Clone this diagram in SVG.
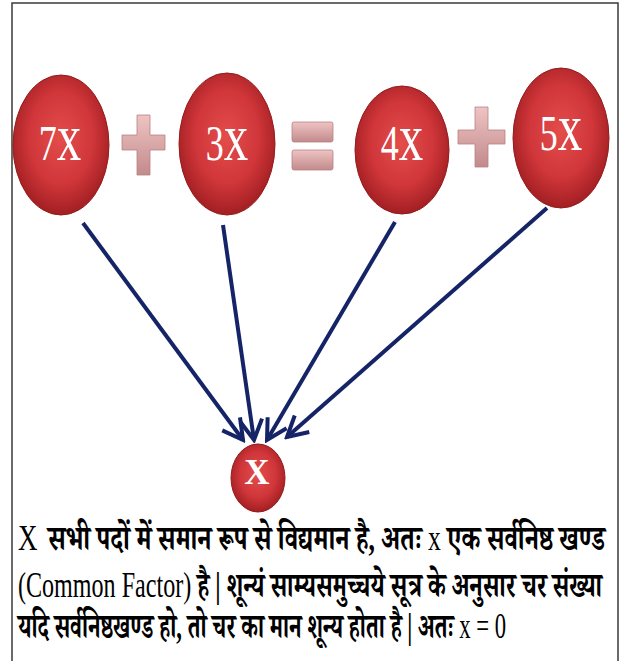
<svg xmlns="http://www.w3.org/2000/svg" width="635" height="661" viewBox="0 0 635 661">
<defs>
<radialGradient id="red" cx="50%" cy="45%" r="55%">
<stop offset="0" stop-color="#e34d4b"/>
<stop offset="0.6" stop-color="#d0363a"/>
<stop offset="1" stop-color="#a21f22"/>
</radialGradient>
<linearGradient id="pink" x1="0" y1="0" x2="0" y2="1">
<stop offset="0" stop-color="#efc4c4"/>
<stop offset="1" stop-color="#c28a8c"/>
</linearGradient>
<marker id="arr" markerUnits="userSpaceOnUse" markerWidth="26" markerHeight="26" viewBox="0 0 26 26" refX="23" refY="13" orient="auto">
<path d="M3,2 L23,13 L3,24" fill="none" stroke="#152466" stroke-width="4" stroke-linejoin="miter"/>
</marker>
<style>
.node{fill:url(#red);stroke:#931c1e;stroke-width:1}
.lbl{font-family:"Liberation Serif","Times New Roman",serif;fill:#ffffff;text-anchor:middle}
.op{fill:url(#pink);stroke:#b88080;stroke-width:0.8}
.conn{stroke:#152466;stroke-width:4;fill:none;marker-end:url(#arr)}
.txt{font-family:"Liberation Serif","Noto Serif Devanagari","Noto Sans Devanagari","Noto Sans",serif;font-size:27px;font-weight:bold;fill:#000000}
.lat{font-weight:normal}
</style>
</defs>
<rect x="12" y="3" width="606" height="680" fill="#ffffff" stroke="#3a3a3a" stroke-width="1.5"/>

<g id="connectors">
<line class="conn" x1="83" y1="223" x2="243" y2="440"/>
<line class="conn" x1="223" y1="225" x2="254" y2="440"/>
<line class="conn" x1="395" y1="222" x2="267" y2="440"/>
<line class="conn" x1="547" y1="208" x2="287" y2="437"/>
</g>

<g id="node-7x">
<ellipse class="node" cx="61" cy="145" rx="48" ry="70"/>
<text class="lbl" transform="translate(60,160) scale(0.72,1)"><tspan font-size="50">7</tspan><tspan font-size="68">x</tspan></text>
</g>
<g id="plus-1">
<path class="op" d="M137,115 H150 V135 H165 V150 H150 V175 H137 V150 H122 V135 H137 Z"/>
</g>
<g id="node-3x">
<ellipse class="node" cx="227" cy="144" rx="48" ry="71"/>
<text class="lbl" transform="translate(227,160) scale(0.72,1)"><tspan font-size="50">3</tspan><tspan font-size="68">x</tspan></text>
</g>
<g id="equals">
<rect class="op" x="292" y="122" width="41" height="20" rx="2"/>
<rect class="op" x="292" y="150" width="41" height="20" rx="2"/>
</g>
<g id="node-4x">
<ellipse class="node" cx="402" cy="150" rx="47" ry="64"/>
<text class="lbl" transform="translate(402,160) scale(0.72,1)"><tspan font-size="50">4</tspan><tspan font-size="68">x</tspan></text>
</g>
<g id="plus-2">
<path class="op" d="M475,107 H488 V130 H505 V144 H488 V167 H475 V144 H458 V130 H475 Z"/>
</g>
<g id="node-5x">
<ellipse class="node" cx="561" cy="138" rx="48" ry="70"/>
<text class="lbl" transform="translate(561,150) scale(0.72,1)"><tspan font-size="50">5</tspan><tspan font-size="68">x</tspan></text>
</g>
<g id="node-X">
<ellipse class="node" cx="258" cy="478" rx="27" ry="34"/>
<text class="lbl" x="257" y="484" font-size="35" font-weight="bold">X</text>
</g>

<g id="caption">
<text class="txt lat" transform="translate(18,550) scale(1,1.3)" x="0" y="0">X</text>
<text class="txt" transform="translate(48,550) scale(1,1.3)" x="0" y="0" textLength="557" lengthAdjust="spacingAndGlyphs">सभी पदों में समान रूप से विद्यमान है, अतः <tspan class="lat">x</tspan> एक सर्वनिष्ठ खण्ड</text>
<text class="txt" transform="translate(18,597) scale(1,1.3)" x="0" y="0" textLength="584" lengthAdjust="spacingAndGlyphs"><tspan class="lat">(Common Factor)</tspan> है | शून्यं साम्यसमुच्चये सूत्र के अनुसार चर संख्या</text>
<text class="txt" transform="translate(18,638) scale(1,1.3)" x="0" y="0" textLength="488" lengthAdjust="spacingAndGlyphs">यदि सर्वनिष्ठखण्ड हो, तो चर का मान शून्य होता है | अतः <tspan class="lat">x = 0</tspan></text>
</g>
</svg>
